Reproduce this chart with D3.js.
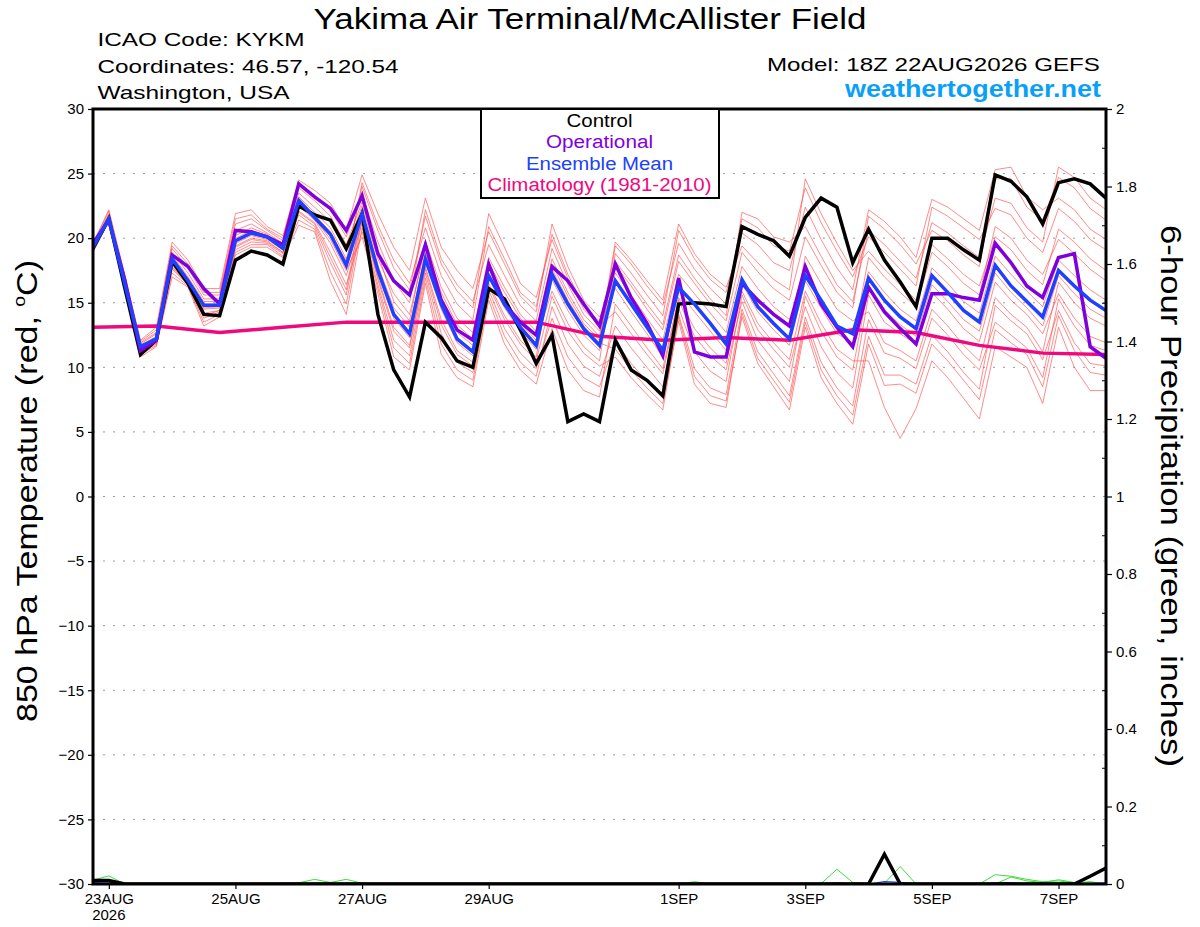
<!DOCTYPE html>
<html lang="en">
<head>
	<meta charset="UTF-8">
	<title>Yakima Air Terminal/McAllister Field - GEFS 850 hPa Temperature</title>

	<script src="https://cdn.jsdelivr.net/npm/d3@7/dist/d3.min.js"></script>

	<style>
		body {
			margin: 0;
			background: white;
		}

		svg {
			display: block;
			font-family: "Liberation Sans", Arial, Helvetica, sans-serif;
		}
	</style>
</head>
<body>
	<div id="vis"></div>

	<script>
		var width = 1200;
		var height = 927;

		// model run 18Z 22AUG2026, 65 six-hourly steps
		var runTime = Date.UTC(2026, 7, 22, 18);
		var stepHours = 6;

		// axis ticks
		var tempTicks = [-30, -25, -20, -15, -10, -5, 0, 5, 10, 15, 20, 25, 30];
		var gridTemps = [-25, -20, -15, -10, -5, 0, 5, 10, 15, 20, 25];
		var precipTicks = [0, 0.2, 0.4, 0.6, 0.8, 1, 1.2, 1.4, 1.6, 1.8, 2];
		var precipMinorTicks = [0.1, 0.3, 0.5, 0.7, 0.9, 1.1, 1.3, 1.5, 1.7, 1.9];
		var dateTicks = ["2026-08-23", "2026-08-25", "2026-08-27", "2026-08-29",
			"2026-09-01", "2026-09-03", "2026-09-05", "2026-09-07"];
		var dateLabels = ["23AUG", "25AUG", "27AUG", "29AUG", "1SEP", "3SEP", "5SEP", "7SEP"];

		// control run (black)
		var ctrlTemp = [19.2,21.5,16.2,11.0,12.1,18.2,16.5,14.1,14.0,18.3,19.0,18.7,18.0,
			22.5,21.8,21.4,19.2,21.9,14.1,9.8,7.7,13.5,12.3,10.5,10.0,16.1,
			15.3,12.9,10.3,12.5,5.8,6.4,5.8,12.1,9.8,9.0,7.8,14.9,15.0,
			14.9,14.7,20.9,20.3,19.8,18.6,21.6,23.1,22.4,18.1,20.7,18.3,16.6,
			14.7,20.0,20.0,19.1,18.3,24.9,24.4,23.2,21.1,24.3,24.6,24.2,23.1];

		// operational run (purple)
		var opTemp = [19.6,21.4,16.8,11.3,12.1,18.7,17.8,16.1,14.9,20.6,20.5,20.1,19.5,
			24.2,23.2,22.3,20.6,23.3,18.8,16.7,15.6,19.5,15.2,12.9,12.1,18.0,
			14.9,13.5,12.5,17.8,16.7,14.9,13.2,18.0,15.4,13.4,10.9,16.9,11.2,
			10.8,10.8,16.5,15.2,14.1,13.2,17.8,14.9,13.1,11.6,16.2,14.3,13.0,
			11.8,15.7,15.7,15.4,15.2,19.6,18.1,16.3,15.4,18.5,18.8,11.6,10.7];

		// ensemble mean (blue)
		var meanTemp = [19.3,21.5,16.5,11.6,12.2,18.4,16.7,14.8,14.8,19.8,20.4,20.1,19.2,
			22.9,21.6,20.3,17.9,21.9,17.5,14.1,12.6,18.4,14.9,12.2,11.2,17.1,
			14.9,13.1,11.7,17.2,14.9,13.0,11.7,16.7,14.9,13.1,11.3,16.2,14.9,
			13.4,11.8,16.8,14.7,13.4,12.2,17.1,15.2,13.2,12.6,16.9,15.2,13.9,
			13.0,17.1,15.8,14.4,13.5,17.9,16.3,15.1,13.9,17.5,16.3,15.2,14.4];

		// climatology 1981-2010 (magenta), one value per day
		var climStep = [0, 4, 8, 12, 16, 20, 24, 28, 32, 36, 40, 44, 48, 52, 56, 60, 64];
		var climTemp = [13.1,13.2,12.7,13.1,13.5,13.5,13.5,13.5,12.4,12.1,12.3,12.1,12.9,12.7,11.7,11.1,11.0];

		// ensemble members (red), one row per time step, one column per member
		var ensTemp = [
			[19.3,19.1,19.4,19.0,19.5,19.3,19.4,19.1,19.6,18.9,19.5,19.2,19.3,19.1],
			[21.5,21.4,21.8,21.3,22.1,21.5,21.6,21.4,22.2,21.3,21.9,21.5,21.6,21.4],
			[16.5,16.3,16.8,16.1,17.1,16.5,16.6,16.2,17.2,16.0,16.9,16.4,16.6,16.3],
			[11.6,11.3,11.8,11.0,12.0,11.5,11.7,11.1,12.1,10.8,11.9,11.4,11.7,11.2],
			[12.2,12.0,12.6,11.7,12.9,12.1,12.4,11.8,13.1,11.6,12.7,12.1,12.3,11.9],
			[18.4,17.8,18.9,17.3,19.4,18.3,18.7,17.6,19.7,17.0,19.2,18.1,18.5,17.7],
			[16.7,16.5,17.3,16.3,18.0,16.7,17.0,16.4,18.3,16.2,17.7,16.6,16.9,16.5],
			[14.8,14.2,15.3,13.5,15.8,14.6,15.1,13.8,16.1,13.2,15.6,14.5,14.9,14.0],
			[14.8,14.4,15.3,14.1,15.8,14.7,15.1,14.3,16.1,13.9,15.6,14.6,14.9,14.4],
			[19.8,19.4,20.6,18.9,21.5,19.7,20.2,19.1,21.9,18.7,21.1,19.6,20.0,19.3],
			[20.4,20.0,21.1,19.5,21.8,20.3,20.8,19.7,22.2,19.3,21.5,20.2,20.6,19.9],
			[20.1,19.8,20.4,19.5,20.7,20.0,20.3,19.6,20.9,19.3,20.6,19.9,20.2,19.7],
			[19.2,18.9,19.6,18.6,20.0,19.1,19.4,18.8,20.2,18.5,19.8,19.1,19.3,18.9],
			[22.9,22.1,23.5,21.4,24.2,22.7,23.2,21.8,24.5,21.0,23.9,22.5,23.1,22.0],
			[21.6,21.2,22.4,20.7,23.3,21.5,22.0,20.9,23.7,20.5,22.9,21.4,21.8,21.1],
			[20.3,18.9,21.3,17.4,22.2,19.9,20.8,18.1,22.7,16.7,21.7,19.6,20.5,18.5],
			[17.9,16.4,19.0,14.9,20.1,17.5,18.4,15.6,20.6,14.1,19.5,17.1,18.2,16.0],
			[24.3,20.5,22.5,21.4,23.4,20.1,21.9,21.7,24.9,20.8,22.8,21.2,24.0,22.2],
			[21.0,16.1,18.4,17.0,19.7,15.7,17.5,17.3,21.9,16.4,18.8,16.8,20.6,17.9],
			[18.3,11.5,15.7,13.1,16.7,10.8,14.1,13.8,19.3,12.1,15.1,12.8,17.7,14.6],
			[16.5,10.3,14.1,11.7,15.0,9.8,12.6,12.3,17.5,10.9,13.6,11.5,16.0,13.1],
			[20.8,16.9,19.3,17.8,22.2,16.5,18.4,18.2,23.1,17.3,19.8,17.6,21.7,18.9],
			[17.1,11.8,15.8,13.7,18.4,11.0,14.9,14.5,19.3,12.6,16.2,13.3,18.0,15.3],
			[14.9,9.8,13.3,11.3,16.4,9.2,12.2,11.9,17.5,10.4,13.8,11.0,15.9,12.7],
			[13.7,9.0,12.2,10.4,15.1,8.5,11.2,10.9,16.1,9.6,12.7,10.1,14.6,11.7],
			[20.9,15.6,18.1,16.5,19.5,15.2,17.1,16.9,20.5,16.0,18.5,16.3,21.9,17.6],
			[18.4,12.4,15.8,14.0,17.1,11.8,14.9,14.6,18.0,13.0,16.2,13.7,19.3,15.3],
			[15.8,10.4,13.8,12.1,14.8,9.8,13.1,12.8,15.5,11.1,14.1,11.8,16.5,13.4],
			[14.7,9.3,12.4,10.8,13.6,8.7,11.7,11.4,14.3,9.9,12.8,10.5,15.4,12.1],
			[20.3,14.7,18.0,17.6,19.2,13.0,17.2,16.8,21.1,13.8,18.4,15.5,19.9,15.9],
			[17.2,11.8,15.5,15.2,16.4,9.8,14.9,14.4,17.8,10.8,15.8,12.8,16.9,13.4],
			[14.8,10.1,13.4,13.2,14.1,8.2,13.0,12.5,15.2,9.2,13.7,11.1,14.5,11.6],
			[13.5,9.3,12.1,11.9,12.8,7.7,11.7,11.3,13.9,8.5,12.4,10.1,13.2,10.5],
			[17.9,13.2,19.4,11.4,16.7,14.9,18.8,17.3,16.1,12.0,19.7,10.8,14.3,18.2],
			[16.3,11.5,18.0,9.8,14.9,13.2,17.3,15.6,14.3,10.3,18.3,9.2,12.6,16.6],
			[14.5,10.0,16.3,8.4,13.1,11.5,15.6,13.8,12.6,8.9,16.7,7.9,11.0,14.9],
			[12.9,8.5,14.8,7.2,11.3,9.9,14.0,12.1,10.8,7.6,15.2,6.7,9.5,13.3],
			[18.2,14.6,19.6,13.6,16.2,15.4,20.6,17.2,15.9,14.1,21.1,13.9,15.2,18.7],
			[16.5,11.2,17.6,8.7,14.9,13.0,18.4,15.7,14.3,9.9,18.8,9.3,12.4,16.9],
			[14.9,9.7,16.1,7.2,13.4,11.5,16.8,14.2,12.8,8.4,17.2,7.8,10.9,15.3],
			[13.6,8.9,14.9,6.9,11.8,10.3,15.8,12.7,11.3,7.9,16.2,7.4,9.8,14.0],
			[18.9,15.6,21.5,14.2,16.8,15.9,20.4,17.8,16.5,14.5,19.4,13.9,15.1,22.0],
			[17.4,12.9,20.8,10.7,14.7,13.4,19.5,16.1,14.3,11.2,18.1,10.3,12.1,21.5],
			[16.1,11.4,19.4,9.0,13.4,11.9,18.1,14.7,12.9,9.5,16.8,8.5,10.5,20.1],
			[15.2,10.0,19.0,7.3,12.2,10.6,17.5,13.7,11.7,7.8,16.0,6.7,8.9,19.7],
			[20.1,14.7,23.9,13.5,18.6,15.9,22.4,17.1,16.7,13.9,24.6,13.1,15.5,20.9],
			[17.9,11.6,21.2,9.8,16.5,13.4,19.9,15.2,14.6,10.4,21.9,9.2,12.8,18.6],
			[15.8,9.6,19.0,7.8,14.5,11.4,17.7,13.2,12.6,8.4,19.6,7.2,10.8,16.4],
			[14.6,8.4,17.0,6.3,13.6,10.5,16.0,12.6,11.9,7.0,17.5,5.6,9.8,15.1],
			[21.7,15.6,20.1,12.4,14.3,10.5,22.2,17.4,18.5,13.7,19.0,11.8,16.3,20.6],
			[20.7,13.5,18.9,9.4,11.9,6.9,21.3,15.8,17.0,11.1,17.6,8.6,14.4,19.5],
			[19.5,12.6,17.6,9.4,11.3,4.5,20.1,14.5,15.8,10.7,16.4,8.7,13.3,18.2],
			[18.0,11.8,16.3,8.7,10.5,6.8,18.5,13.6,14.7,9.9,15.2,8.0,12.4,16.9],
			[20.6,15.8,22.4,12.5,14.5,10.5,23.0,17.7,18.9,13.8,19.5,11.8,16.4,21.2],
			[19.8,14.5,21.7,11.2,13.2,9.2,22.4,16.5,17.8,12.5,18.4,10.5,15.1,20.4],
			[18.7,13.0,20.8,9.6,11.7,7.6,21.5,15.1,16.5,11.0,17.2,9.0,13.7,19.4],
			[17.8,12.0,19.9,8.3,10.5,6.0,20.6,14.2,15.6,9.8,16.3,7.5,12.8,18.5],
			[24.6,16.6,22.3,14.8,15.4,11.6,25.3,18.6,20.9,13.5,20.1,12.9,17.3,23.1],
			[24.6,15.2,21.8,13.6,14.1,10.8,25.5,17.2,20.0,12.5,19.1,11.9,15.8,22.7],
			[22.4,14.1,20.0,12.6,13.1,10.0,23.2,15.9,18.3,11.5,17.5,11.0,14.6,20.8],
			[21.4,12.6,18.9,10.6,11.2,7.2,22.2,14.7,17.2,9.2,16.4,8.5,13.2,19.7],
			[24.7,15.7,22.3,14.4,16.6,13.1,23.1,18.3,19.9,15.3,20.7,14.0,17.1,25.5],
			[23.9,13.8,21.3,11.9,15.0,10.0,22.2,17.1,18.8,13.2,19.7,11.3,15.7,24.7],
			[22.3,12.4,19.9,10.3,13.8,8.2,20.7,16.0,17.6,11.7,18.4,9.6,14.5,23.1],
			[21.4,11.9,19.1,10.1,13.2,8.2,19.9,15.2,16.7,11.3,17.5,9.4,13.8,22.2]
		];

		// 6-hour precipitation, [step, inches] for the non-zero steps
		var ctrlPrecip = [[0, 0.009], [1, 0.009], [50, 0.077], [63, 0.02], [64, 0.041]];
		var meanPrecip = [[0, 0.004], [1, 0.006], [47, 0.003], [50, 0.006], [51, 0.004],
			[57, 0.003], [58, 0.003], [63, 0.002], [64, 0.003]];
		var ensPrecip = [
			[[0, 0.01], [1, 0.021]],
			[[12, 0.002], [13, 0.003], [14, 0.012], [15, 0.004], [16, 0.012], [17, 0.002]],
			[[35, 0.002], [38, 0.006]],
			[[46, 0.001], [47, 0.038], [48, 0.004]],
			[[50, 0.002], [51, 0.045]],
			[[57, 0.024], [58, 0.02], [59, 0.012], [60, 0.006], [61, 0.008], [62, 0.003], [63, 0.006]],
			[[58, 0.018], [59, 0.008], [60, 0.004], [61, 0.011], [62, 0.004], [63, 0.003]]
		];

		var nSteps = ctrlTemp.length;

		// plot frame (window.top is read-only, so no bare "top")
		var plotL = 93, plotR = 1106, plotT = 109, plotB = 884;

		var svg = d3.select("#vis").append("svg")
				.attr("width", width)
				.attr("height", height);

		svg.append("rect")
			.attr("width", width)
			.attr("height", height)
			.attr("fill", "white");

		function stepTime(i) {
			return new Date(runTime + i * stepHours * 3600e3);
		}

		var x = d3.scaleUtc()
				.domain([stepTime(0), stepTime(nSteps - 1)])
				.range([plotL, plotR]);
		var yT = d3.scaleLinear().domain([-30, 30]).range([plotB, plotT]);
		var yP = d3.scaleLinear().domain([0, 2]).range([plotB, plotT]);

		// turn the [step, value] lists into full series
		function fillSteps(pairs) {
			var out = ctrlTemp.map(function() { return 0; });
			pairs.forEach(function(p) { out[p[0]] = p[1]; });
			return out;
		}

		svg.append("clipPath")
			.attr("id", "plotclip")
			.append("rect")
			.attr("x", plotL)
			.attr("y", plotT)
			.attr("width", plotR - plotL)
			.attr("height", plotB - plotT);

		// dotted grid
		svg.append("g")
			.selectAll("line")
			.data(gridTemps)
			.join("line")
				.attr("x1", plotL)
				.attr("x2", plotR)
				.attr("y1", function(d) { return yT(d); })
				.attr("y2", function(d) { return yT(d); })
				.attr("stroke", "#9a9a9a")
				.attr("stroke-width", 1)
				.attr("stroke-dasharray", "2,8");

		var plot = svg.append("g").attr("clip-path", "url(#plotclip)");

		var tempLine = d3.line()
				.x(function(d, i) { return x(stepTime(i)); })
				.y(function(d) { return yT(d); });

		var precipLine = d3.line()
				.x(function(d, i) { return x(stepTime(i)); })
				.y(function(d) { return yP(d); });

		// ensemble members
		var members = ensTemp[0].map(function(_, k) {
			return ensTemp.map(function(row) { return row[k]; });
		});

		plot.append("g")
			.selectAll("path")
			.data(members)
			.join("path")
				.attr("d", tempLine)
				.attr("fill", "none")
				.attr("stroke", "#ff4a4a")
				.attr("stroke-opacity", 0.8)
				.attr("stroke-width", 0.8);

		// precipitation members
		plot.append("g")
			.selectAll("path")
			.data(ensPrecip.map(fillSteps))
			.join("path")
				.attr("d", precipLine)
				.attr("fill", "none")
				.attr("stroke", "#3ddc3d")
				.attr("stroke-width", 1);

		plot.append("path")
			.attr("d", precipLine(fillSteps(meanPrecip)))
			.attr("fill", "none")
			.attr("stroke", "#2040ff")
			.attr("stroke-width", 1.2);

		plot.append("path")
			.attr("d", precipLine(fillSteps(ctrlPrecip)))
			.attr("fill", "none")
			.attr("stroke", "black")
			.attr("stroke-width", 3.5);

		// climatology
		var climLine = d3.line()
				.x(function(d, i) { return x(stepTime(climStep[i])); })
				.y(function(d) { return yT(d); });

		plot.append("path")
			.attr("d", climLine(climTemp))
			.attr("fill", "none")
			.attr("stroke", "#f0087f")
			.attr("stroke-width", 3.5);

		// control, operational, mean
		var mainSeries = [
			{ data: ctrlTemp, color: "black" },
			{ data: opTemp, color: "#7f00dd" },
			{ data: meanTemp, color: "#2040ff" }
		];

		plot.append("g")
			.selectAll("path")
			.data(mainSeries)
			.join("path")
				.attr("d", function(d) { return tempLine(d.data); })
				.attr("fill", "none")
				.attr("stroke", function(d) { return d.color; })
				.attr("stroke-width", 3.5)
				.attr("stroke-linejoin", "miter");

		// axes
		var fontFamily = '"Liberation Sans", Arial, Helvetica, sans-serif';

		var leftAxis = svg.append("g")
			.attr("transform", "translate(" + plotL + ",0)")
			.call(d3.axisLeft(yT).tickValues(tempTicks).tickSize(5).tickSizeOuter(0).tickPadding(4));

		var rightAxis = svg.append("g")
			.attr("transform", "translate(" + plotR + ",0)")
			.call(d3.axisRight(yP).tickValues(precipTicks).tickSize(6).tickSizeOuter(0).tickPadding(4)
				.tickFormat(d3.format("~g")));

		svg.append("g")
			.attr("transform", "translate(" + plotR + ",0)")
			.call(d3.axisLeft(yP).tickValues(precipMinorTicks).tickSize(0).tickSizeOuter(0).tickFormat(""))
			.call(function(g) { g.select(".domain").remove(); })
			.selectAll("line")
				.attr("x2", -4)
				.attr("stroke", "black");

		var bottomAxis = svg.append("g")
			.attr("transform", "translate(0," + plotB + ")")
			.call(d3.axisBottom(x)
				.tickValues(dateTicks.map(function(d) { return new Date(d + "T00:00:00Z"); }))
				.tickFormat(function(d, i) { return dateLabels[i]; })
				.tickSize(5).tickSizeOuter(0).tickPadding(4));

		[leftAxis, rightAxis, bottomAxis].forEach(function(g) {
			g.select(".domain").remove();
			g.attr("font-family", fontFamily).attr("font-size", 15);
			g.selectAll("line").attr("stroke", "black").attr("stroke-width", 1.2);
			g.selectAll("text").attr("fill", "black");
		});

		bottomAxis.append("text")
			.attr("x", x(new Date(dateTicks[0] + "T00:00:00Z")))
			.attr("y", 36)
			.attr("text-anchor", "middle")
			.attr("fill", "black")
			.text("2026");

		// frame
		svg.append("rect")
			.attr("x", plotL)
			.attr("y", plotT)
			.attr("width", plotR - plotL)
			.attr("height", plotB - plotT)
			.attr("fill", "none")
			.attr("stroke", "black")
			.attr("stroke-width", 3);

		// legend
		var legendItems = [
			{ label: "Control", color: "black", w: 66 },
			{ label: "Operational", color: "#7f00dd", w: 107 },
			{ label: "Ensemble Mean", color: "#2040ff", w: 147 },
			{ label: "Climatology (1981-2010)", color: "#f0087f", w: 224 }
		];

		svg.append("rect")
			.attr("x", 481)
			.attr("y", plotT)
			.attr("width", 238)
			.attr("height", 89)
			.attr("fill", "white")
			.attr("stroke", "black")
			.attr("stroke-width", 2);

		svg.append("g")
			.attr("font-family", fontFamily)
			.attr("font-size", 18)
			.attr("text-anchor", "middle")
			.selectAll("text")
			.data(legendItems)
			.join("text")
				.attr("x", 599.5)
				.attr("y", function(d, i) { return 127 + i * 21.3; })
				.attr("fill", function(d) { return d.color; })
				.attr("textLength", function(d) { return d.w; })
				.attr("lengthAdjust", "spacingAndGlyphs")
				.text(function(d) { return d.label; });

		// titles
		function label(txt, xPos, yPos, size, anchor, len, color, weight) {
			return svg.append("text")
				.attr("x", xPos)
				.attr("y", yPos)
				.attr("font-family", fontFamily)
				.attr("font-size", size)
				.attr("font-weight", weight || "normal")
				.attr("text-anchor", anchor)
				.attr("fill", color || "black")
				.attr("textLength", len)
				.attr("lengthAdjust", "spacingAndGlyphs")
				.text(txt);
		}

		label("Yakima Air Terminal/McAllister Field", 590, 29, 29, "middle", 553);
		label("ICAO Code: KYKM", 97.5, 46, 19, "start", 207);
		label("Coordinates: 46.57, -120.54", 97.5, 72.5, 19, "start", 301);
		label("Washington, USA", 97.5, 99, 19, "start", 192);
		label("Model: 18Z 22AUG2026 GEFS", 1100, 71, 19, "end", 333);
		label("weathertogether.net", 1101, 97, 23, "end", 256, "#0aa0f8", "bold");

		// y axis titles
		var leftTitle = svg.append("text")
			.attr("transform", "translate(37,491) rotate(-90)")
			.attr("font-family", fontFamily)
			.attr("font-size", 30)
			.attr("text-anchor", "middle")
			.attr("textLength", 462)
			.attr("lengthAdjust", "spacingAndGlyphs");
		leftTitle.append("tspan").text("850 hPa Temperature (red, ");
		leftTitle.append("tspan").attr("font-size", 17).attr("dy", -12).text("o");
		leftTitle.append("tspan").attr("dy", 12).text("C)");

		svg.append("text")
			.attr("transform", "translate(1161,496) rotate(90)")
			.attr("font-family", fontFamily)
			.attr("font-size", 30)
			.attr("text-anchor", "middle")
			.attr("textLength", 542)
			.attr("lengthAdjust", "spacingAndGlyphs")
			.text("6-hour Precipitation (green, inches)");
	</script>
</body>
</html>
